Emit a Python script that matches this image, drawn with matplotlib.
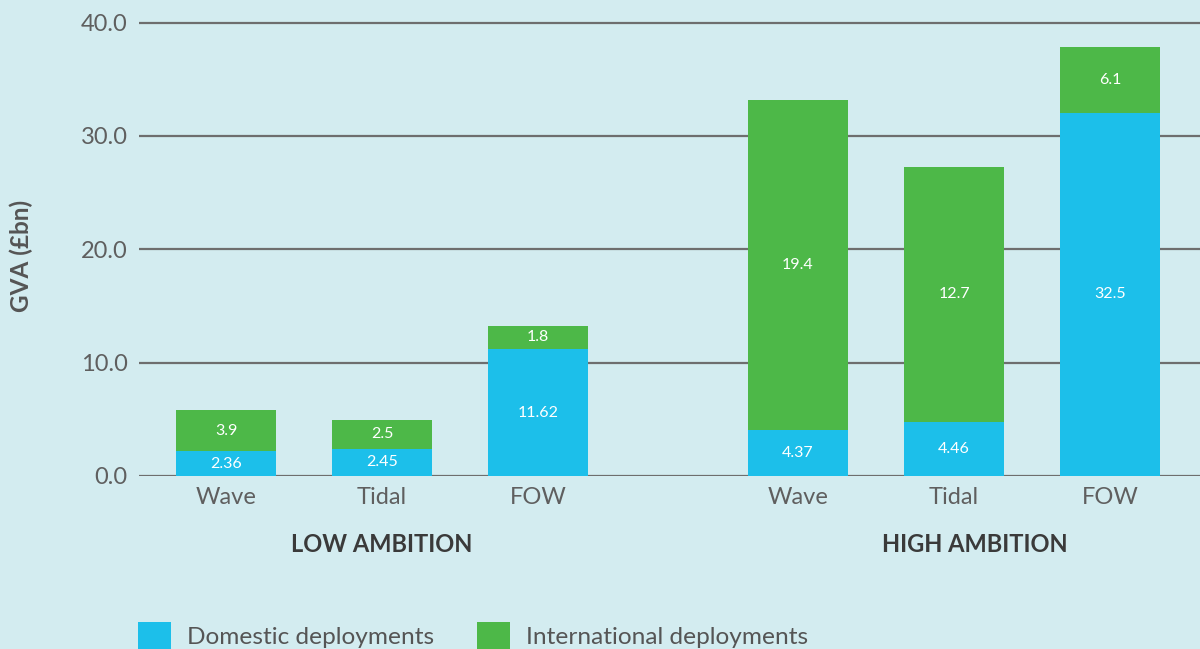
import numpy as np
import matplotlib.pyplot as plt

plt.rcParams['font.family'] = ['Lato', 'DejaVu Sans']

categories = ['Wave', 'Tidal', 'FOW', 'Wave', 'Tidal', 'FOW']
groups = ['LOW AMBITION', 'HIGH AMBITION']
# bar heights as drawn in the picture (GVA, £bn)
domestic = [2.2, 2.38, 11.2, 4.1, 4.8, 32.04]
international = [3.62, 2.56, 2.04, 29.08, 22.46, 5.82]
# labels printed on the bars
domestic_lbl = ['2.36', '2.45', '11.62', '4.37', '4.46', '32.5']
international_lbl = ['3.9', '2.5', '1.8', '19.4', '12.7', '6.1']

blue = '#1CBFEA'
green = '#4DB848'
bg = '#D3ECF0'
grey = '#5f5f5f'

x = np.array([0, 1, 2, 3.667, 4.667, 5.667])
w = 0.641

fig = plt.figure(figsize=(12, 6.49), dpi=100, facecolor=bg)
ax = fig.add_axes([0.1158, 0.2666, 0.8842, 0.7020])
ax.set_facecolor(bg)

b1 = ax.bar(x, domestic, w, color=blue, zorder=3, label='Domestic deployments')
b2 = ax.bar(x, international, w, bottom=domestic, color=green, zorder=3,
            label='International deployments')

for xi, d, i, dl, il in zip(x, domestic, international, domestic_lbl, international_lbl):
    ax.text(xi, d / 2, dl, ha='center', va='center', color='white', fontsize=11.5, zorder=4)
    ax.text(xi, d + i / 2, il, ha='center', va='center', color='white', fontsize=11.5, zorder=4)

ax.set_ylim(0, 40.2)
ax.set_xlim(-0.558, 6.244)
ax.set_yticks(np.arange(0, 41, 10))
ax.set_yticklabels(['%.1f' % v for v in np.arange(0, 41, 10)])
ax.set_xticks(x)
ax.set_xticklabels(categories)
ax.tick_params(axis='both', length=0, colors=grey, labelsize=17)
ax.tick_params(axis='y', pad=8)
ax.tick_params(axis='x', pad=8)
ax.grid(axis='y', color='#6e6e6e', linewidth=1.6, zorder=1)
for s in ax.spines.values():
    s.set_visible(False)

fig.text(0.0175, 0.605, 'GVA (£bn)', rotation=90, ha='center', va='center',
         fontsize=17.5, fontweight='bold', color='#555555')

fig.text(382 / 1200, 1 - 545 / 649, groups[0], ha='center', va='center',
         fontsize=17, fontweight='bold', color='#3a3a3a')
fig.text(975 / 1200, 1 - 545 / 649, groups[1], ha='center', va='center',
         fontsize=17, fontweight='bold', color='#3a3a3a')

fig.legend(handles=[b1, b2], loc='lower left', bbox_to_anchor=(0.097, -0.035),
           ncol=2, frameon=False, fontsize=17.6, labelcolor='#555555',
           handlelength=1.35, handleheight=1.35, handletextpad=0.65, columnspacing=1.75)

fig.savefig('out.png', dpi=100, facecolor=bg)
